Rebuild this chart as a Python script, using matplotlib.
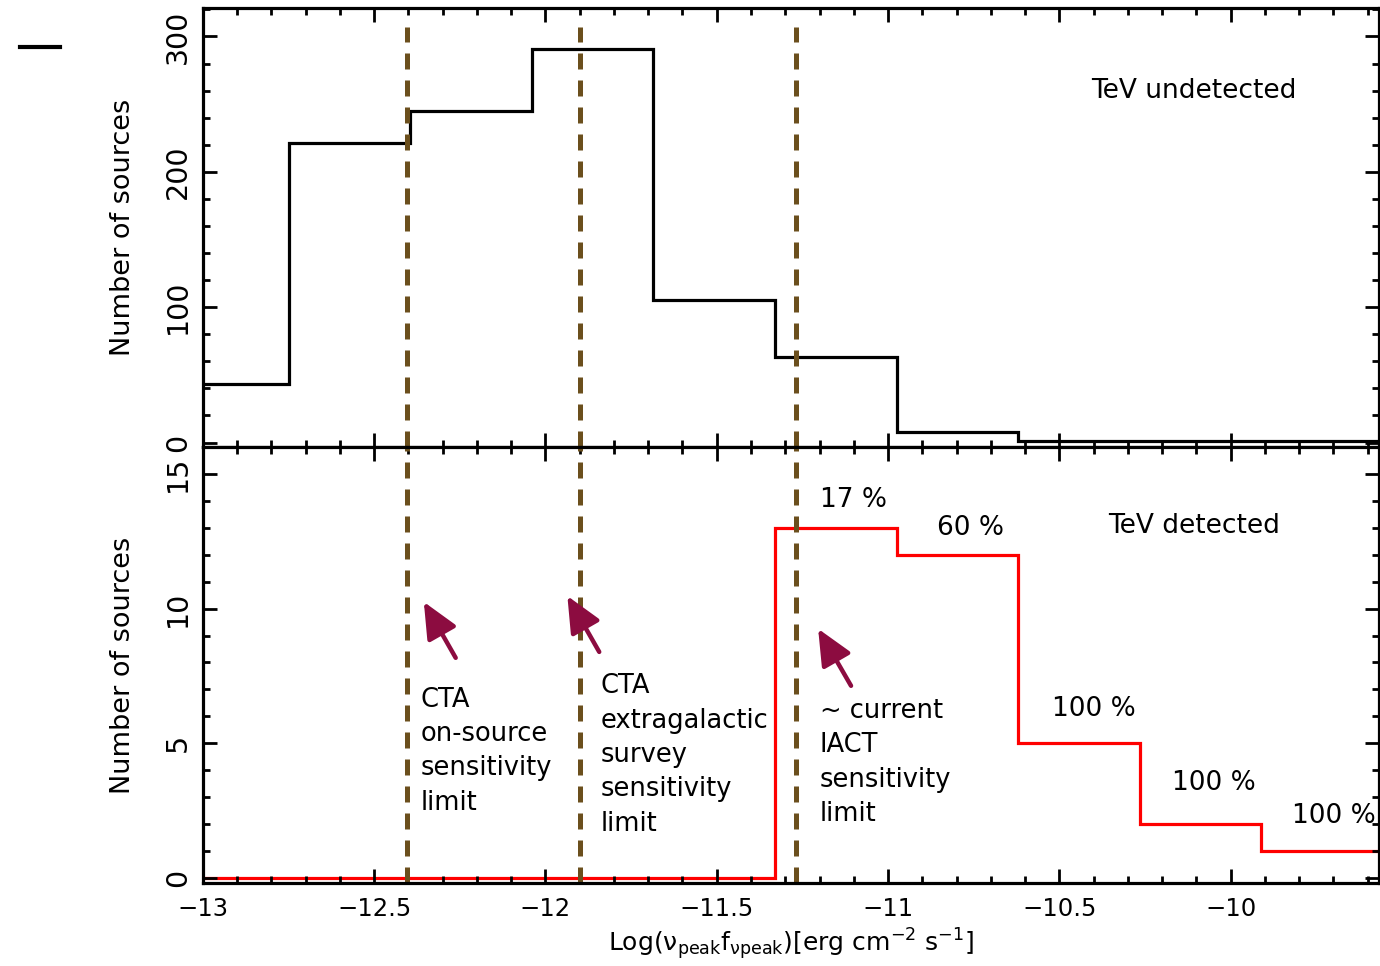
import numpy as np
import matplotlib
matplotlib.use("Agg")
import matplotlib.pyplot as plt
from matplotlib.lines import Line2D
from matplotlib.ticker import FuncFormatter

# histogram bin edges (log flux) and counts
edges = [-13.1, -12.75, -12.395, -12.04, -11.685, -11.33, -10.975, -10.62, -10.265, -9.91, -9.555]
undetected = [43, 221, 245, 291, 105, 63, 8, 1, 1, 1]
detected = [0, 0, 0, 0, 0, 13, 12, 5, 2, 1]

# sensitivity limits (vertical dashed lines)
limits = [-12.405, -11.898, -11.268]
limit_labels = ["CTA\non-source\nsensitivity\nlimit",
                "CTA\nextragalactic\nsurvey\nsensitivity\nlimit",
                "~ current\nIACT\nsensitivity\nlimit"]
label_pos = [(-12.365, 7.1), (-11.84, 7.6), (-11.2, 6.68)]
arrow_tail = [(-12.262, 8.17), (-11.843, 8.39), (-11.108, 7.13)]
arrow_head = [(-12.355, 10.25), (-11.936, 10.47), (-11.204, 9.25)]

# detection fractions per bin
pct_labels = ["17 %", "60 %", "100 %", "100 %", "100 %"]
pct_pos = [(-11.1, 14.05), (-10.76, 13.0), (-10.4, 6.25), (-10.05, 3.5), (-9.7, 2.3)]

dash_col = "#6b4f1d"
arrow_col = "#8c0c40"

fig = plt.figure(figsize=(13.8, 9.66), dpi=100)
ax1 = fig.add_axes([0.147, 0.537, 0.852, 0.4547])
ax2 = fig.add_axes([0.147, 0.086, 0.852, 0.451], sharex=ax1)

ax1.stairs(undetected, edges, color="black", lw=2.3)
ax2.stairs(detected, edges, color="red", lw=2.3)

for x in limits:
    ax1.axvline(x, ymax=0.957, color=dash_col, lw=3.6, linestyle=(0, (3.2, 2.2)))
    ax2.axvline(x, color=dash_col, lw=3.6, linestyle=(0, (3.2, 2.2)))

ax1.set_xlim(-13, -9.568)
ax1.set_ylim(-3.5, 321)
ax2.set_ylim(-0.2, 16)

fmt = FuncFormatter(lambda v, p: ("%g" % v).replace("-", "\u2212"))
for ax in (ax1, ax2):
    for s in ax.spines.values():
        s.set_linewidth(2.3)
    ax.tick_params(which="both", direction="in", top=True, right=True, width=2)
    ax.tick_params(which="major", length=10)
    ax.tick_params(which="minor", length=5)
    ax.tick_params(axis="x", labelsize=17.5, pad=10)
    ax.tick_params(axis="y", labelsize=20.5, labelrotation=90, pad=8)
    ax.xaxis.set_major_locator(plt.MultipleLocator(0.5))
    ax.xaxis.set_minor_locator(plt.MultipleLocator(0.1))
    ax.xaxis.set_major_formatter(fmt)
    for lab in ax.get_yticklabels():
        lab.set_va("center")
    ax.set_ylabel("Number of sources", fontsize=19.5, labelpad=20)

ax1.yaxis.set_major_locator(plt.MultipleLocator(100))
ax1.yaxis.set_minor_locator(plt.MultipleLocator(20))
ax2.yaxis.set_major_locator(plt.MultipleLocator(5))
ax2.yaxis.set_minor_locator(plt.MultipleLocator(1))
ax1.tick_params(labelbottom=False)

ax1.text(-10.108, 260, "TeV undetected", fontsize=19, ha="center", va="center")
ax2.text(-10.108, 13.07, "TeV detected", fontsize=19, ha="center", va="center")

for txt, (x, y) in zip(limit_labels, label_pos):
    ax2.text(x, y, txt, fontsize=18.5, ha="left", va="top", linespacing=1.42)
for t, h in zip(arrow_tail, arrow_head):
    ax2.annotate("", xy=h, xytext=t,
                 arrowprops=dict(arrowstyle="-|>,head_length=1.1,head_width=0.5",
                                 color=arrow_col, lw=3.2, mutation_scale=20,
                                 shrinkA=0, shrinkB=0))
for t, (x, y) in zip(pct_labels, pct_pos):
    ax2.text(x, y, t, fontsize=19, ha="center", va="center")

ax2.set_xlabel(r"Log($\mathregular{\nu_{peak}f_{\nu peak}}$)[erg cm$^{\mathregular{-2}}$ s$^{\mathregular{-1}}$]",
               fontsize=18, labelpad=4)

fig.add_artist(Line2D([20 / 1380, 60 / 1380], [1 - 47 / 966, 1 - 47 / 966],
                      color="black", lw=3, transform=fig.transFigure))

fig.savefig("out.png", dpi=100)
